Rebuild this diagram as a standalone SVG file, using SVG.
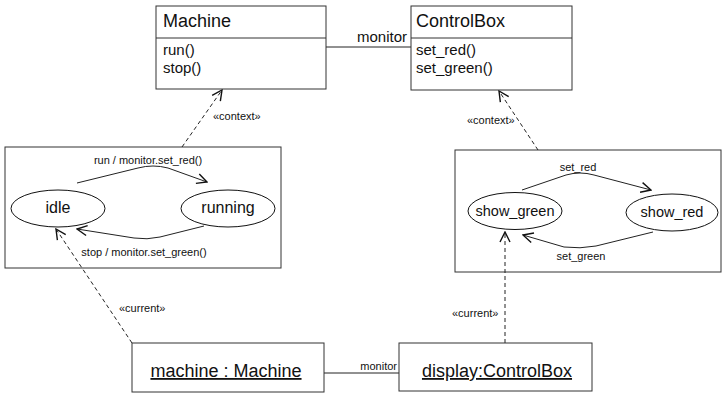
<svg xmlns="http://www.w3.org/2000/svg" width="724" height="393" viewBox="0 0 724 393">
  <style>
    text { font-family: "Liberation Sans", Arial, sans-serif; fill: #111; }
    .box { fill: #fff; stroke: #333; stroke-width: 1; }
    .frame { fill: none; stroke: #333; stroke-width: 1; }
    .state { fill: #fff; stroke: #111; stroke-width: 1; }
    .line { fill: none; stroke: #222; stroke-width: 1; }
    .dash { fill: none; stroke: #222; stroke-width: 1; stroke-dasharray: 4 3; }
    .title { font-size: 18px; }
    .op { font-size: 15px; }
    .small { font-size: 11px; }
    .stname { font-size: 16px; text-anchor: middle; }
    .stname2 { font-size: 14.5px; text-anchor: middle; }
    .obj { font-size: 18px; text-anchor: middle; text-decoration: underline; }
  </style>
  <defs>
    <marker id="open" viewBox="0 0 12 12" refX="11" refY="6" markerWidth="12" markerHeight="12" markerUnits="userSpaceOnUse" orient="auto">
      <path d="M1,1 L11,6 L1,11" fill="none" stroke="#111" stroke-width="1.4"/>
    </marker>
  </defs>

  <!-- state machine frames -->
  <g id="machine-states">
    <rect class="frame" x="5" y="147" width="276" height="121"/>
  </g>
  <g id="display-states">
    <rect class="frame" x="455" y="150" width="266" height="122"/>
  </g>

  <!-- connectors -->
  <g id="connectors">
    <!-- class association -->
    <line class="line" x1="326" y1="47" x2="411" y2="47"/>
    <text class="op" x="407" y="42" text-anchor="end">monitor</text>
    <!-- object link -->
    <line class="line" x1="324" y1="373" x2="399" y2="373"/>
    <text class="small" x="397" y="370" text-anchor="end">monitor</text>

    <!-- context dependencies -->
    <line class="dash" x1="182" y1="147" x2="222" y2="90" marker-end="url(#open)"/>
    <text class="small" x="213" y="120">«context»</text>
    <line class="dash" x1="538" y1="150" x2="499" y2="91" marker-end="url(#open)"/>
    <text class="small" x="467" y="124">«context»</text>

    <!-- current-state dependencies -->
    <line class="dash" x1="132" y1="343" x2="56" y2="229" marker-end="url(#open)"/>
    <text class="small" x="119" y="312">«current»</text>
    <line class="dash" x1="505" y1="343" x2="505" y2="232" marker-end="url(#open)"/>
    <text class="small" x="452" y="317">«current»</text>

    <!-- machine transitions -->
    <path class="line" d="M77,183 L138,168 Q153,164 168,168 L207,182" marker-end="url(#open)"/>
    <text class="small" x="148" y="164" text-anchor="middle">run / monitor.set_red()</text>
    <path class="line" d="M204,226 L160,237 Q147,240 134,238 L77,229" marker-end="url(#open)"/>
    <text class="small" x="144" y="256" text-anchor="middle">stop / monitor.set_green()</text>

    <!-- display transitions -->
    <path class="line" d="M522,190 L566,175 Q580,171 594,175 L651,190" marker-end="url(#open)"/>
    <text class="small" x="578" y="171" text-anchor="middle">set_red</text>
    <path class="line" d="M653,232 L596,246 Q580,249 564,247 L523,235" marker-end="url(#open)"/>
    <text class="small" x="581" y="260" text-anchor="middle">set_green</text>
  </g>

  <!-- classes -->
  <g id="Machine">
    <rect class="box" x="156" y="6" width="170" height="83"/>
    <line class="frame" x1="156" y1="38" x2="326" y2="38"/>
    <text class="title" x="163" y="27">Machine</text>
    <text class="op" x="163" y="55">run()</text>
    <text class="op" x="163" y="73">stop()</text>
  </g>
  <g id="ControlBox">
    <rect class="box" x="411" y="6" width="161" height="84"/>
    <line class="frame" x1="411" y1="38" x2="572" y2="38"/>
    <text class="title" x="416" y="27">ControlBox</text>
    <text class="op" x="416" y="55">set_red()</text>
    <text class="op" x="416" y="73">set_green()</text>
  </g>

  <!-- states -->
  <g id="idle">
    <ellipse class="state" cx="58" cy="208.5" rx="47" ry="18.5"/>
    <text class="stname" x="58" y="213">idle</text>
  </g>
  <g id="running">
    <ellipse class="state" cx="228" cy="208.5" rx="47" ry="18.5"/>
    <text class="stname" x="228" y="213">running</text>
  </g>
  <g id="show_green">
    <ellipse class="state" cx="515" cy="211" rx="47" ry="18.5"/>
    <text class="stname2" x="515" y="216">show_green</text>
  </g>
  <g id="show_red">
    <ellipse class="state" cx="672" cy="212.5" rx="46" ry="18.5"/>
    <text class="stname2" x="672" y="217">show_red</text>
  </g>

  <!-- objects -->
  <g id="machine-object">
    <rect class="box" x="132" y="343" width="192" height="49"/>
    <text class="obj" x="226" y="377">machine : Machine</text>
  </g>
  <g id="display-object">
    <rect class="box" x="399" y="343" width="193" height="48"/>
    <text class="obj" x="497" y="377">display:ControlBox</text>
  </g>
</svg>
